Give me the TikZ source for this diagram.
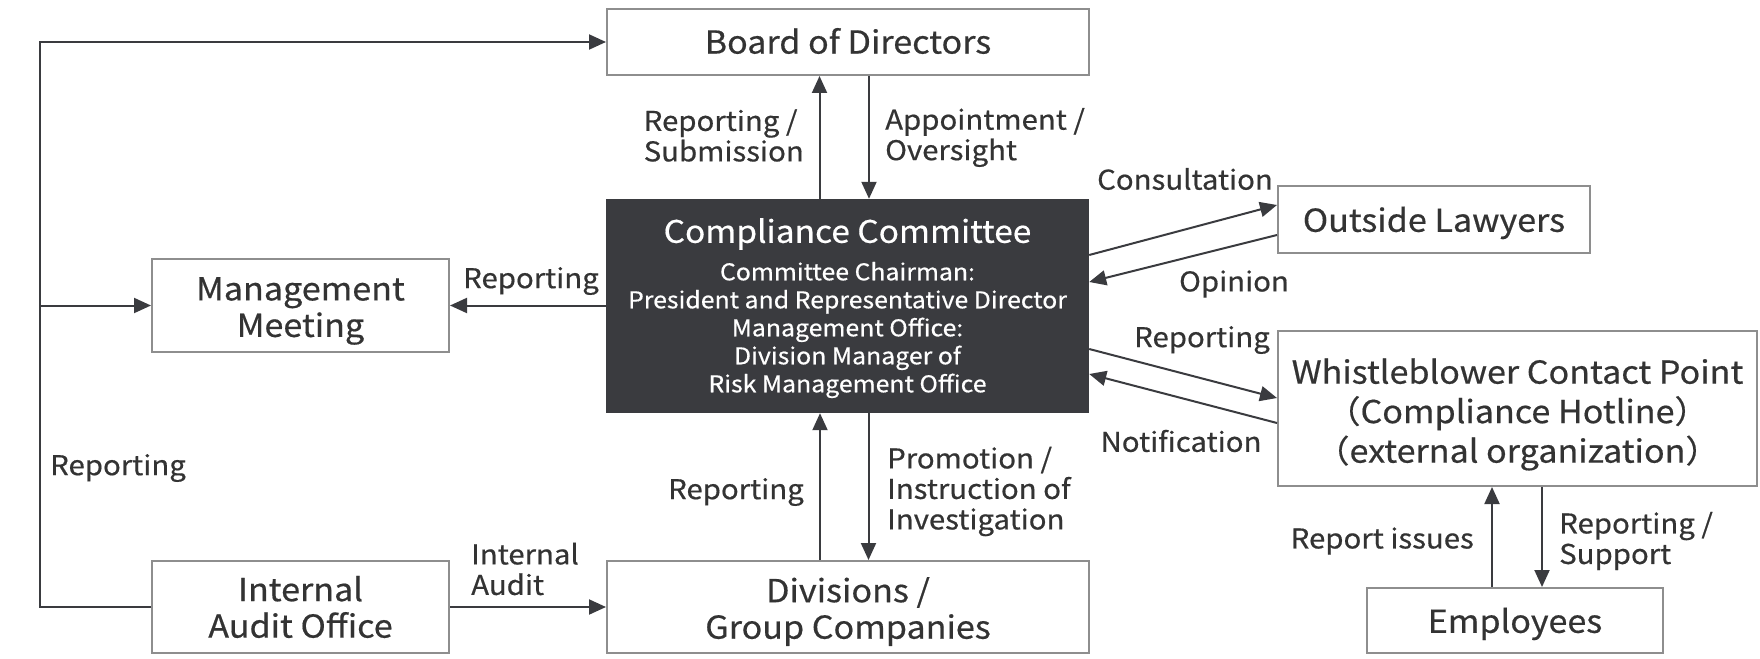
\documentclass[tikz,border=0pt]{standalone}
\usepackage{fontspec}
\setmainfont[FakeStretch=1.08,FakeBold=0.5]{Noto Sans CJK JP}
\usetikzlibrary{arrows.meta,calc}
\definecolor{ink}{HTML}{3A3B3F}
\definecolor{boxline}{HTML}{8E8E8E}
\definecolor{txt}{HTML}{333333}
\begin{document}
\begin{tikzpicture}[x=1pt,y=-1pt,
  box/.style={draw=boxline,line width=2pt,fill=white,inner sep=0pt},
  btxt/.style={text=txt,align=center,inner sep=0pt,font=\fontsize{31.6}{36.5}\selectfont},
  dark/.style={fill=ink,inner sep=0pt},
  arr/.style={draw=ink,line width=2pt,-{Triangle[length=17pt,width=15pt]}},
  lbl/.style={text=txt,inner sep=0pt,font=\fontsize{27.2}{30.5}\selectfont,align=left}]
\useasboundingbox (0,0) rectangle (1760,658);
% boxes
\node[box,minimum width=482pt,minimum height=66pt] (board) at (848,42) {};
\node[btxt] (boardt) at ($(board)+(0,-1)$) {Board of Directors};
\node[dark,minimum width=483pt,minimum height=214pt] (cc) at (847.5,306) {};
\node[text=white,inner sep=0pt,font=\fontsize{31}{36}\selectfont] (cct) at (847.5,234) {Compliance Committee};
\node[text=white,inner sep=0pt,align=center,font=\fontsize{23}{28}\selectfont] (ccb) at (847.5,330) {Committee Chairman:\\President and Representative Director\\Management Office:\\Division Manager of\\Risk Management Office};
\node[box,minimum width=297pt,minimum height=93pt] (mm) at (300.5,305.5) {};
\node[btxt] (mmt) at ($(mm)+(0,5.5)$) {Management\\Meeting};
\node[box,minimum width=297pt,minimum height=92pt] (iao) at (300.5,607) {};
\node[btxt] (iaot) at ($(iao)+(0,0)$) {Internal\\Audit Office};
\node[box,minimum width=482pt,minimum height=92pt] (div) at (848,607) {};
\node[btxt] (divt) at ($(div)+(0,4.5)$) {Divisions /\\Group Companies};
\node[box,minimum width=312pt,minimum height=67pt] (ol) at (1434,219.5) {};
\node[btxt] (olt) at ($(ol)+(0,3.4)$) {Outside Lawyers};
\node[box,minimum width=479pt,minimum height=155pt] (wb) at (1517.5,408.5) {};
\node[btxt,font=\fontsize{31.6}{39.5}\selectfont] (wbt) at ($(wb)+(0,6)$) {Whistleblower Contact Point\\（Compliance Hotline）\\（external organization）};
\node[box,minimum width=296pt,minimum height=65pt] (emp) at (1515,620.5) {};
\node[btxt] (empt) at ($(emp)+(0,3.4)$) {Employees};
% left loop
\coordinate (lt) at (40,42);
\coordinate (lm) at (40,305.5);
\draw[arr] (iao.west) -| (lt) -- (board.west);
\draw[arr] (lm) -- (mm.west);
\node[lbl,anchor=west] (l1) at (50,468) {Reporting};
% board <-> cc
\draw[arr] ([xshift=-28pt]cc.north) -- ([xshift=-28pt]cc.north |- board.south);
\draw[arr] ([xshift=21pt]board.south) -- ([xshift=21pt]board.south |- cc.north);
\node[lbl,anchor=east] (l2) at (804,135.5) {Reporting /\\Submission};
\node[lbl,anchor=west] (l3) at (885,137.5) {Appointment /\\Oversight};
% cc -> mm
\draw[arr] (cc.west |- mm.east) -- (mm.east);
\node[lbl] (l4) at (531,281) {Reporting};
% cc <-> div
\draw[arr] ([xshift=-28pt]div.north) -- ([xshift=-28pt]div.north |- cc.south);
\draw[arr] ([xshift=21pt]cc.south) -- ([xshift=21pt]cc.south |- div.north);
\node[lbl,anchor=east] (l5) at (804,492) {Reporting};
\node[lbl,anchor=west] (l6) at (887,491.5) {Promotion /\\Instruction of\\Investigation};
% iao -> div
\draw[arr] (iao.east) -- (div.west);
\node[lbl,anchor=west] (l7) at (471,569) {Internal\\Audit};
% cc <-> ol
\draw[arr] ($(cc.east)+(0,-51)$) -- ($(ol.west)+(0,-14.5)$);
\draw[arr] ($(ol.west)+(0,15.5)$) -- ($(cc.east)+(0,-24)$);
\node[lbl] (l8) at (1185,179) {Consultation};
\node[lbl] (l9) at (1234,284) {Opinion};
% cc <-> wb
\draw[arr] ($(cc.east)+(0,43)$) -- ($(wb.west)+(0,-10.5)$);
\draw[arr] ($(wb.west)+(0,14.5)$) -- ($(cc.east)+(0,68)$);
\node[lbl] (l10) at (1202,340) {Reporting};
\node[lbl] (l11) at (1181,441) {Notification};
% wb <-> emp
\draw[arr] ([xshift=-23pt]emp.north) -- ([xshift=-23pt]emp.north |- wb.south);
\draw[arr] ([xshift=27pt]wb.south -| emp.north) -- ([xshift=27pt]emp.north);
\node[lbl,anchor=east] (l12) at (1474,541) {Report issues};
\node[lbl,anchor=west] (l13) at (1559,541) {Reporting /\\Support};
\end{tikzpicture}
\end{document}
